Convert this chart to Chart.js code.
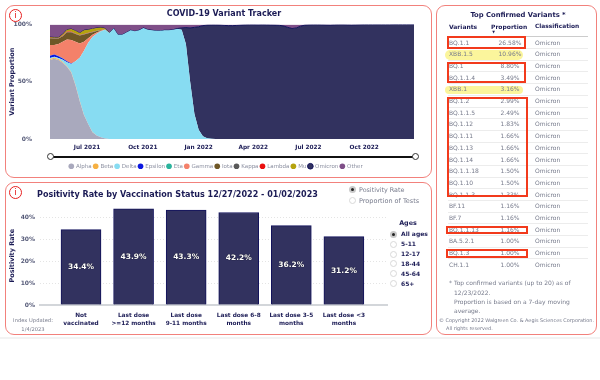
<!DOCTYPE html>
<html><head><meta charset="utf-8">
<script src="https://cdn.jsdelivr.net/npm/chart.js@4"></script>
<style>
html,body{margin:0;padding:0;background:#fff;width:600px;height:380px;overflow:hidden;font-family:"DejaVu Sans",sans-serif}
.card{position:absolute;border:1.5px solid #f2817c;border-radius:9px;box-sizing:border-box}
canvas{position:absolute}
.t{position:absolute;white-space:nowrap;line-height:1;transform:translateY(-50%);color:#777b8c;font-size:6px}
.c{transform:translate(-50%,-50%)}
.b{font-weight:bold;color:#1b1b55}
.box{position:absolute;border:2px solid #f23a1c;box-sizing:border-box}
.pill{position:absolute;background:#fbf59c;border-radius:5px}
.line{position:absolute;height:1px;background:#ececec}
.dot{position:absolute;border-radius:50%;box-sizing:border-box;border:1px solid #d8d8d8;background:#fff;width:7px;height:7px}
.on{background:#222;border:2px solid #c9c9c9}
.info{position:absolute;width:13px;height:13px;border:1.5px solid #e62020;border-radius:50%;box-sizing:border-box;color:#e62020;font-size:9px;line-height:10px;text-align:center;background:#fff}
</style></head><body>
<div class="card" style="left:5px;top:5px;width:427px;height:172.5px"></div>
<div class="card" style="left:5px;top:182px;width:427px;height:152.5px"></div>
<div class="card" style="left:436px;top:5px;width:161px;height:329.5px"></div>
<div style="position:absolute;left:0;top:337px;width:600px;height:2px;background:#f3f3f3"></div>
<canvas id="variant" width="436" height="179" style="left:0;top:0"></canvas>
<canvas id="rate" width="436" height="151" style="left:0;top:183px"></canvas>
<div class="info" style="left:9px;top:9px">i</div>
<div class="info" style="left:9px;top:186px">i</div>
<div style="position:absolute;left:50px;top:155.5px;width:365px;height:2px;background:#111"></div>
<div style="position:absolute;left:46.5px;top:153px;width:7px;height:7px;border:1px solid #333;border-radius:50%;background:#fff;box-sizing:border-box"></div>
<div style="position:absolute;left:411.5px;top:153px;width:7px;height:7px;border:1px solid #333;border-radius:50%;background:#fff;box-sizing:border-box"></div>
<div id="ui"></div>
<script>
const days=[0,7,14,21,28,35,42,49,56,63,70,77,84,91,98,105,112,119,126,133,140,147,154,161,168,175,182,189,196,203,210,217,224,231,238,245,252,259,266,273,280,287,294,301,308,315,322,329,336,343,350,357,364,371,378,385,392,399,406,413,420,427,434,441,448,455,462,469,476,483,490,497,504,511,518,525,532,539,546,553,560,567,574,581,588,595,600];
const monthDays=[61,153,245,335,426,518];
const monthLabels=["Jul 2021","Oct 2021","Jan 2022","Apr 2022","Jul 2022","Oct 2022"];
const alpha=[69,70,69,66.5,63,58,47,33,21,13,6,3,1.5,.5];
const beta=[.8,.9,.8,.7,.6,.5,.4,.3,.2,.2,.1,.1];
const delta=[1,1,1,2.1,3.5,7,20.4,37.6,55.8,70.8,82.9,88.9,92.5,95,92.5,96.5,91,91,93,95,94,95,97,95.5,95,94.5,94.5,95,95,95.5,96,95.5,83,50,22,8,2.5,.7,.2];
const epsilon=[2,1.8,1.5,1,.8,.4,.2,.1];
const eta=[.2,.2,.2,.2,.1,.1];
const gamma=[9,8.3,10.5,14.5,19,20.5,17,12.5,8,4,2,1,.5,.2];
const iota=[5.9,5.6,4.7,4.7,6.2,6.7,6.7,6.9,6.2,4.3,2.3,1.3,.4,.1];
const kappa=[.3,.3,.3,.3,.3,.3,.3,.3,.3,.2,.2,.2,.1];
const lambda=[.2,.2,.2,.3,.3,.3,.2,.2,.2,.2,.1,.1,.1];
const mu=[.6,.4,.5,1.2,1.7,2.2,2.3,1.6,3.3,2.8,2.6,2.4,2.3,.7,.3];
const omicron=[0,0,0,0,0,0,0,0,0,0,0,0,0,0,0,0,0,0,0,0,0,0,0,0,0,0,0,0,0,0,.5,1.5,14.3,47,75.5,90,96.5,98.8,99.4,99.6,99.5,99.2,99,99,99.2,99.5,99.7,99.8,99.8,99.7,99.8,99.7,99.6,99.5,99.3,98.7,97.5,96.5,97,98.5,99.5,99.7,99.8,99.8,99.7,99.6,99.5,99.7,99.8,99.8,99.7,99.6,99.7,99.8,99.9,99.9,99.9,99.9,99.9,99.9,99.9,100,100,100,100,100,100];
const other=[11,11.2,11.3,8.5,4.5,4,5.5,7.5,5,4.5,3.8,3,2.6,3.5,7.2,3.5,9,9,7,5,6,5,3,4.5,5,5.5,5.5,5,5,4.5,3.5,3,2.7,3,2.5,2,1,.5,.4,.4,.5,.8,1,1,.8,.5,.3,.2,.2,.3,.2,.3,.4,.5,.7,1.3,2.5,3.5,3,1.5,.5,.3,.2,.2,.3,.4,.5,.3,.2,.2,.3,.4,.3,.2,.1,.1,.1,.1,.1,.1,.1];
const doseLabels=[["Not","vaccinated"],["Last dose",">=12 months"],["Last dose","9-11 months"],["Last dose 6-8","months"],["Last dose 3-5","months"],["Last dose <3","months"]];
const positivity=[34.4,43.9,43.3,42.2,36.2,31.2];
const ages=["All ages","5-11","12-17","18-44","45-64","65+"];
const variants=["BQ.1.1","XBB.1.5","BQ.1","BQ.1.1.4","XBB.1","BQ.1.2","BQ.1.1.5","BQ.1.12","BQ.1.11","BQ.1.13","BQ.1.14","BQ.1.1.18","BQ.1.10","BQ.1.1.3","BF.11","BF.7","BQ.1.1.13","BA.5.2.1","BQ.1.3","CH.1.1"];
const shares=["26.58%","10.96%","8.80%","3.49%","3.16%","2.99%","2.49%","1.83%","1.66%","1.66%","1.66%","1.50%","1.50%","1.33%","1.16%","1.16%","1.16%","1.00%","1.00%","1.00%"];

const FONT='"DejaVu Sans",sans-serif', NAVY='#1b1b55', GREY='#8b8fa0';
const ser=[["Alpha",alpha,"#a9a9bd"],["Beta",beta,"#f6b042"],["Delta",delta,"#87dcf2"],["Epsilon",epsilon,"#0b17e0"],["Eta",eta,"#2bb39c"],["Gamma",gamma,"#f4816a"],["Iota",iota,"#6f5726"],["Kappa",kappa,"#595959"],["Lambda",lambda,"#ea1010"],["Mu",mu,"#b5a30e"],["Omicron",omicron,"#32325f"],["Other",other,"#7f4f88"]];
const legendShift={id:'legendShift',afterLayout(c){c.legend.left+=5;c.legend.right+=5}};
new Chart(document.getElementById('variant'),{type:'line',plugins:[legendShift],
 data:{datasets:ser.map((s,k)=>({label:s[0],data:days.map((d,i)=>({x:d,y:s[1][i]||0})),backgroundColor:s[2],borderColor:s[0]==="Omicron"?"#12125c":s[2],borderWidth:s[0]==="Omicron"?1:0,pointRadius:0,tension:0,fill:k?'-1':'origin'}))},
 options:{responsive:false,animation:false,devicePixelRatio:1,
  layout:{padding:{top:24.5,right:22,left:8,bottom:0}},
  plugins:{tooltip:{enabled:false},
   legend:{position:'bottom',labels:{usePointStyle:true,boxWidth:4,boxHeight:4,padding:2,color:GREY,font:{family:FONT,size:5.5}}}},
  scales:{
   x:{type:'linear',min:0,max:600,grid:{display:false},border:{display:false},
    afterBuildTicks:s=>{s.ticks=monthDays.map(v=>({value:v}))},
    afterFit:s=>{s.height=22.5},
    ticks:{autoSkip:false,maxRotation:0,padding:-3,color:NAVY,font:{family:FONT,size:5.8,weight:'bold'},callback:v=>monthLabels[monthDays.indexOf(v)]}},
   y:{stacked:true,min:0,max:100,grid:{display:false},border:{display:false},
    afterFit:s=>{s.width=42},
    title:{display:true,text:"Variant Proportion",color:NAVY,padding:0,font:{family:FONT,size:6.5,weight:'bold'}},
    ticks:{stepSize:50,padding:10,color:'#555a78',font:{family:FONT,size:6,weight:'bold'},callback:v=>v+'%'}}}}
});

const barLabels={id:'barLabels',afterDatasetsDraw(c){const x=c.ctx,m=c.getDatasetMeta(0);x.save();x.font='bold 7.5px '+FONT;x.textAlign='center';x.textBaseline='middle';
 m.data.forEach((e,i)=>{const y=(e.y+e.base)/2;x.fillStyle='#fff';x.shadowColor='#000';x.shadowBlur=1;x.fillText(positivity[i].toFixed(1)+'%',e.x,y)});x.restore()}};
new Chart(document.getElementById('rate'),{type:'bar',plugins:[barLabels],
 data:{datasets:[{data:positivity.map((v,i)=>({x:i,y:v})),backgroundColor:"#32325f",borderColor:"#12125c",borderWidth:1,barThickness:40}]},
 options:{responsive:false,animation:false,devicePixelRatio:1,
  layout:{padding:{top:23.4,right:49,left:8,bottom:0}},
  plugins:{tooltip:{enabled:false},legend:{display:false}},
  scales:{
   x:{type:'linear',offset:false,min:-0.78,max:5.82,grid:{display:false},border:{display:true,color:'#d3d6da',width:2},
    afterBuildTicks:s=>{s.ticks=[0,1,2,3,4,5].map(v=>({value:v}))},
    afterFit:s=>{s.height=29},
    ticks:{autoSkip:false,maxRotation:0,padding:-1,color:NAVY,font:{family:FONT,size:5.8,weight:'bold',lineHeight:1.35},callback:v=>doseLabels[v]}},
   y:{min:0,max:45,grid:{color:'#e4e4e4',drawTicks:false},border:{display:false,dash:[1,2]},
    afterFit:s=>{s.width=32},
    title:{display:true,text:"Positivity Rate",color:NAVY,padding:0,font:{family:FONT,size:6.5,weight:'bold'}},
    ticks:{stepSize:10,includeBounds:false,padding:5,color:'#555a78',font:{family:FONT,size:6,weight:'bold'},callback:v=>v+'%'}}}}
});

const ui=document.getElementById('ui');
function t(x,y,s,cls,css){const d=document.createElement('div');d.className='t '+(cls||'');d.textContent=s;d.style.left=x+'px';d.style.top=y+'px';if(css)d.style.cssText+=';'+css;ui.appendChild(d);return d}
function el(cls,css){const d=document.createElement('div');d.className=cls;d.style.cssText=css;ui.appendChild(d)}
t(224,14,"COVID-19 Variant Tracker","c b","font-size:8px");
t(37,194.5,"Positivity Rate by Vaccination Status 12/27/2022 - 01/02/2023","b","font-size:8.05px");
t(33,321,"Index Updated:","c","font-size:5.2px");
t(33,330,"1/4/2023","c","font-size:5.2px");
el('dot on','left:348.5px;top:185.5px');t(359,189.5,"Positivity Rate","","font-size:6.4px");
el('dot','left:348.5px;top:197px');t(359,200.8,"Proportion of Tests","","font-size:6.5px");
t(408,222.5,"Ages","c b","font-size:6.4px");
ages.forEach((a,i)=>{const y=234.3+i*9.85;el('dot'+(i?'':' on'),`left:389.5px;top:${y-3.5}px`);t(401,y,a,"b","font-size:6px")});
t(518,14.7,"Top Confirmed Variants *","c b","font-size:6.8px");
t(449,27,"Variants","b","font-size:6px");t(491,27,"Proportion","b","font-size:6px");t(535,27,"Classification","b","font-size:5.9px");
t(493.5,32.5,"▼","c b","font-size:3.5px");
el('line','left:448px;top:36px;width:140px;background:#ccc');
el('pill','left:445px;top:50px;width:78px;height:9.5px');
el('pill','left:445px;top:85.7px;width:78px;height:8.6px');
variants.forEach((v,i)=>{const y=42.7+i*11.68;
 if(i<19)el('line',`left:448px;top:${y+5.4}px;width:140px`);
 t(449,y,v);t(510,y,shares[i],"c");t(535,y,"Omicron")});
[[447,36,79,12.7],[447,62,79,21.3],[447,96.7,81,100.6],[446,226,82,8.3],[446,249,82,9.3]].forEach(b=>el('box',`left:${b[0]}px;top:${b[1]}px;width:${b[2]}px;height:${b[3]}px`));
t(449,282.5,"*");t(454,282.5,"Top confirmed variants (up to 20) as of");t(454,292.5,"12/23/2022.");t(454,302.3,"Proportion is based on a 7-day moving");t(454,311,"average.");
t(439,319.5,"© Copyright 2022 Walgreen Co. & Aegis Sciences Corporation.","","font-size:4.95px");
t(446,327.8,"All rights reserved.","","font-size:4.95px");
</script>
</body></html>
